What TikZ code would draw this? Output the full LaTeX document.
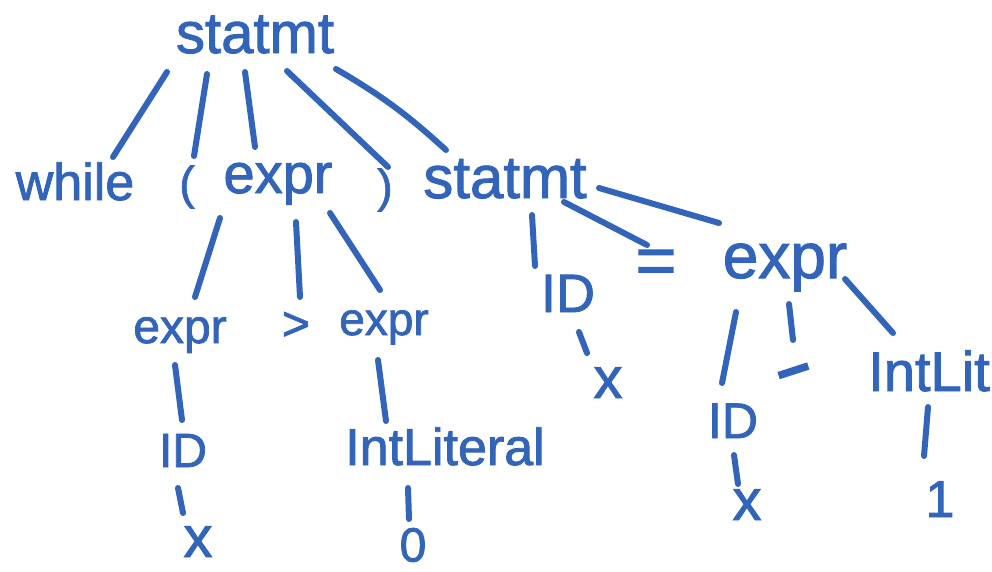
\documentclass[tikz,border=0pt]{standalone}
\usepackage{fontspec}
\setmainfont{Liberation Sans}
\newfontfamily\hand[FakeBold=1.6]{Liberation Sans}
\definecolor{ink}{RGB}{50,100,185}
\tikzset{
  lbl/.style={text=ink, inner sep=0pt, anchor=base},
  sym/.style={text=ink, inner sep=0pt, anchor=center},
  edge/.style={draw=ink, line width=6pt, line cap=round},
}
\newcommand{\fs}[1]{\hand\fontsize{#1}{#1}\selectfont}
\begin{document}
\begin{tikzpicture}[x=1pt,y=-1pt]
\useasboundingbox (0,0) rectangle (992,571);
% level 1
\node[lbl,font=\fs{58}] (root) at (255,53) {statmt};
% level 2
\node[lbl,font=\fs{52}] (while) at (75,200) {while};
\node[sym,font=\fs{46}] (lpar) at (187,187) {(};
\node[lbl,font=\fs{56}] (expr2) at (278,193) {expr};
\node[sym,font=\fs{46}] (rpar) at (385,190) {)};
\node[lbl,font=\fs{60}] (stm2) at (505,198) {statmt};
% level 3
\node[lbl,font=\fs{48}] (exprL) at (180,343) {expr};
\node[sym,font=\fs{48}] (gt) at (296,326) {>};
\node[lbl,font=\fs{46}] (exprR) at (384,335) {expr};
\node[lbl,font=\fs{54}] (idM) at (568,312) {ID};
\node[sym,font=\fs{70}] (eq) at (656,267) {=};
\node[lbl,font=\fs{64}] (exprRR) at (785,278) {expr};
% level 4
\node[lbl,font=\fs{48}] (idL) at (183,467) {ID};
\node[lbl,font=\fs{52}] (intlitL) at (445,465) {IntLiteral};
\node[lbl,font=\fs{58}] (xM) at (608,398) {x};
\node[lbl,font=\fs{50}] (idR) at (733,438) {ID};
\node[sym,font=\fs{80},rotate=18,xscale=1.5,anchor=base] (minus) at (800,391) {-};
\node[lbl,font=\fs{56}] (intlit) at (929,391) {IntLit};
% level 5
\node[lbl,font=\fs{58}] (xL) at (198,557) {x};
\node[sym,font=\fs{48}] (zero) at (413,545) {0};
\node[lbl,font=\fs{58}] (xR) at (747,520) {x};
\node[lbl,font=\fs{52}] (one) at (940,517) {1};
% connectors
\draw[edge] ([shift={(-88,19)}]root.base) -- ([shift={(38,-43)}]while.base);
\draw[edge] ([shift={(-48,21)}]root.base) -- ([shift={(7,-31)}]lpar.center);
\draw[edge] ([shift={(-10,19)}]root.base) -- ([shift={(-23,-46)}]expr2.base);
\draw[edge] ([shift={(32,18)}]root.base) -- ([shift={(3,-23)}]rpar.center);
\draw[edge] ([shift={(81,16)}]root.base) to[bend left=6] ([shift={(-59,-48)}]stm2.base);
\draw[edge] ([shift={(-58,25)}]expr2.base) -- ([shift={(15,-46)}]exprL.base);
\draw[edge] ([shift={(18,29)}]expr2.base) -- ([shift={(4,-29)}]gt.center);
\draw[edge] ([shift={(52,20)}]expr2.base) -- ([shift={(-4,-45)}]exprR.base);
\draw[edge] ([shift={(27,17)}]stm2.base) -- ([shift={(-33,-46)}]idM.base);
\draw[edge] ([shift={(59,4)}]stm2.base) -- ([shift={(-9,-22)}]eq.center);
\draw[edge] ([shift={(94,-10)}]stm2.base) -- ([shift={(-66,-55)}]exprRR.base);
\draw[edge] ([shift={(11,20)}]idM.base) -- ([shift={(-21,-45)}]xM.base);
\draw[edge] ([shift={(-49,34)}]exprRR.base) -- ([shift={(-11,-55)}]idR.base);
\draw[edge] ([shift={(4,26)}]exprRR.base) -- ([shift={(-7,-51)}]minus.base);
\draw[edge] ([shift={(60,1)}]exprRR.base) -- ([shift={(-36,-58)}]intlit.base);
\draw[edge] ([shift={(-5,22)}]exprL.base) -- ([shift={(-1,-47)}]idL.base);
\draw[edge] ([shift={(-5,21)}]idL.base) -- ([shift={(-15,-44)}]xL.base);
\draw[edge] ([shift={(-6,25)}]exprR.base) -- ([shift={(-59,-44)}]intlitL.base);
\draw[edge] ([shift={(-37,23)}]intlitL.base) -- ([shift={(-4,-26)}]zero.center);
\draw[edge] ([shift={(1,17)}]idR.base) -- ([shift={(-9,-36)}]xR.base);
\draw[edge] ([shift={(-1,16)}]intlit.base) -- ([shift={(-16,-61)}]one.base);
\end{tikzpicture}
\end{document}
